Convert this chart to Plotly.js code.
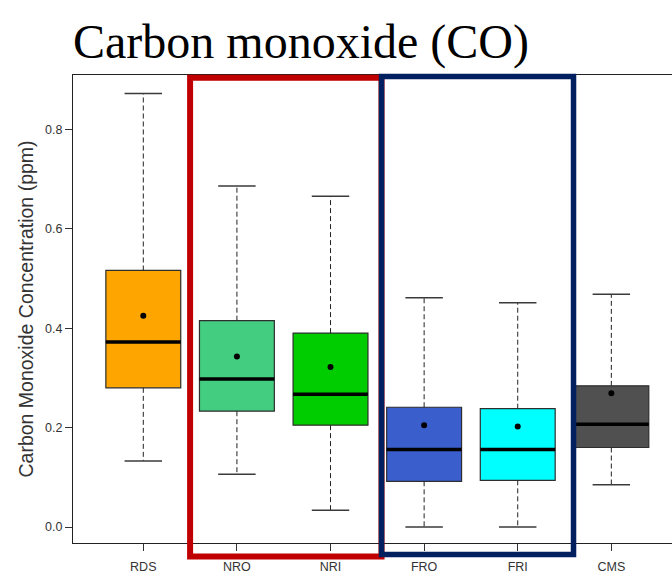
<!DOCTYPE html>
<html>
<head>
<meta charset="utf-8">
<script src="https://cdn.plot.ly/plotly-3.0.1.min.js"></script>
<style>
  html, body { margin: 0; padding: 0; background: #fff; }
  #chart { width: 672px; height: 575px; }
</style>
</head>
<body>
<div id="chart"></div>
<script>
// Carbon monoxide concentration by sampling site (box summaries, ppm)
const categories   = ['RDS', 'NRO', 'NRI', 'FRO', 'FRI', 'CMS'];
const lowerWhisker = [0.133, 0.106, 0.034, 0.000, 0.000, 0.085];
const q1           = [0.280, 0.233, 0.205, 0.092, 0.094, 0.160];
const median       = [0.372, 0.298, 0.267, 0.156, 0.156, 0.207];
const q3           = [0.516, 0.415, 0.390, 0.241, 0.238, 0.284];
const upperWhisker = [0.872, 0.686, 0.665, 0.461, 0.451, 0.468];
const mean         = [0.425, 0.343, 0.322, 0.205, 0.202, 0.269];
const boxColors    = ['#FFA500', '#43CD80', '#00CD00', '#3A5FCD', '#00FFFF', '#505050'];
const yTicks       = [0.0, 0.2, 0.4, 0.6, 0.8];

const pos = categories.map((_, i) => i);
const BOX_W = 0.8;        // box width in category units
const CAP_HALF = 0.2;     // half-width of whisker caps

const traces = [];

// Boxes (drawn first so that the scatter overlays sit on top)
categories.forEach((c, i) => {
  traces.push({
    type: 'box',
    name: c,
    x: [pos[i]],
    q1: [q1[i]],
    median: [median[i]],
    q3: [q3[i]],
    lowerfence: [q1[i]],
    upperfence: [q3[i]],
    width: BOX_W,
    whiskerwidth: 0,
    fillcolor: boxColors[i],
    line: { color: '#2e2e2e', width: 1.2 },
    boxpoints: false,
    hoverinfo: 'skip',
    showlegend: false
  });
});

// Dashed whisker stems
const stemX = [], stemY = [];
pos.forEach((p, i) => {
  stemX.push(p, p, null, p, p, null);
  stemY.push(q3[i], upperWhisker[i], null, q1[i], lowerWhisker[i], null);
});
traces.push({
  type: 'scatter', mode: 'lines', x: stemX, y: stemY,
  line: { color: '#222', width: 1, dash: '5px,3px' },
  hoverinfo: 'skip', showlegend: false
});

// Whisker caps
const capX = [], capY = [];
pos.forEach((p, i) => {
  capX.push(p - CAP_HALF, p + CAP_HALF, null, p - CAP_HALF, p + CAP_HALF, null);
  capY.push(upperWhisker[i], upperWhisker[i], null, lowerWhisker[i], lowerWhisker[i], null);
});
traces.push({
  type: 'scatter', mode: 'lines', x: capX, y: capY,
  line: { color: '#3a3a3a', width: 1.5 },
  hoverinfo: 'skip', showlegend: false
});

// Thick median bars
const medX = [], medY = [];
pos.forEach((p, i) => {
  medX.push(p - BOX_W / 2, p + BOX_W / 2, null);
  medY.push(median[i], median[i], null);
});
traces.push({
  type: 'scatter', mode: 'lines', x: medX, y: medY,
  line: { color: '#000', width: 3.5 },
  hoverinfo: 'skip', showlegend: false
});

// Mean markers
traces.push({
  type: 'scatter', mode: 'markers', x: pos, y: mean,
  marker: { color: '#000', size: 6 },
  hoverinfo: 'skip', showlegend: false
});

const layout = {
  width: 672,
  height: 575,
  margin: { l: 73, r: 0, t: 75, b: 32 },
  paper_bgcolor: '#fff',
  plot_bgcolor: '#fff',
  showlegend: false,
  title: {
    text: 'Carbon monoxide (CO)',
    font: { family: 'Liberation Serif, Times New Roman, serif', size: 48, color: '#000' },
    xref: 'container', x: 73 / 672, xanchor: 'left',
    yref: 'container', y: 1 - 41 / 575, yanchor: 'middle'
  },
  xaxis: {
    range: [-0.751, 5.648],
    tickmode: 'array',
    tickvals: pos,
    ticktext: categories,
    ticks: 'outside', ticklen: 7, tickwidth: 1, tickcolor: '#333',
    ticklabelstandoff: 5,
    tickfont: { family: 'Liberation Sans Narrow, Arial Narrow, Liberation Sans, Arial, sans-serif', size: 12.5, color: '#333' },
    showline: true, linecolor: '#222', linewidth: 1, mirror: true,
    showgrid: false, zeroline: false, fixedrange: true
  },
  yaxis: {
    range: [-0.032, 0.909],
    tickmode: 'array',
    tickvals: yTicks,
    ticktext: yTicks.map(v => v.toFixed(1)),
    ticks: 'outside', ticklen: 7, tickwidth: 1, tickcolor: '#333',
    tickfont: { family: 'Liberation Sans, Arial, sans-serif', size: 12.5, color: '#333' },
    showline: true, linecolor: '#222', linewidth: 1,
    showgrid: false, zeroline: false, fixedrange: true,
    title: {
      text: 'Carbon Monoxide Concentration (ppm)',
      font: { family: 'Liberation Sans, Arial, sans-serif', size: 19.5, color: '#333' },
      standoff: 6
    }
  },
  shapes: [
    // NRO / NRI group frame
    { type: 'rect', xref: 'x', yref: 'paper', x0: 0.5, x1: 2.545, y0: -0.0288, y1: 0.994,
      line: { color: '#C00000', width: 6 }, fillcolor: 'rgba(0,0,0,0)', layer: 'above' },
    // FRO / FRI group frame
    { type: 'rect', xref: 'x', yref: 'paper', x0: 2.545, x1: 4.596, y0: -0.0246, y1: 0.997,
      line: { color: '#002060', width: 5.5 }, fillcolor: 'rgba(0,0,0,0)', layer: 'above' }
  ]
};

Plotly.newPlot('chart', traces, layout, { staticPlot: true, displayModeBar: false });
</script>
</body>
</html>
